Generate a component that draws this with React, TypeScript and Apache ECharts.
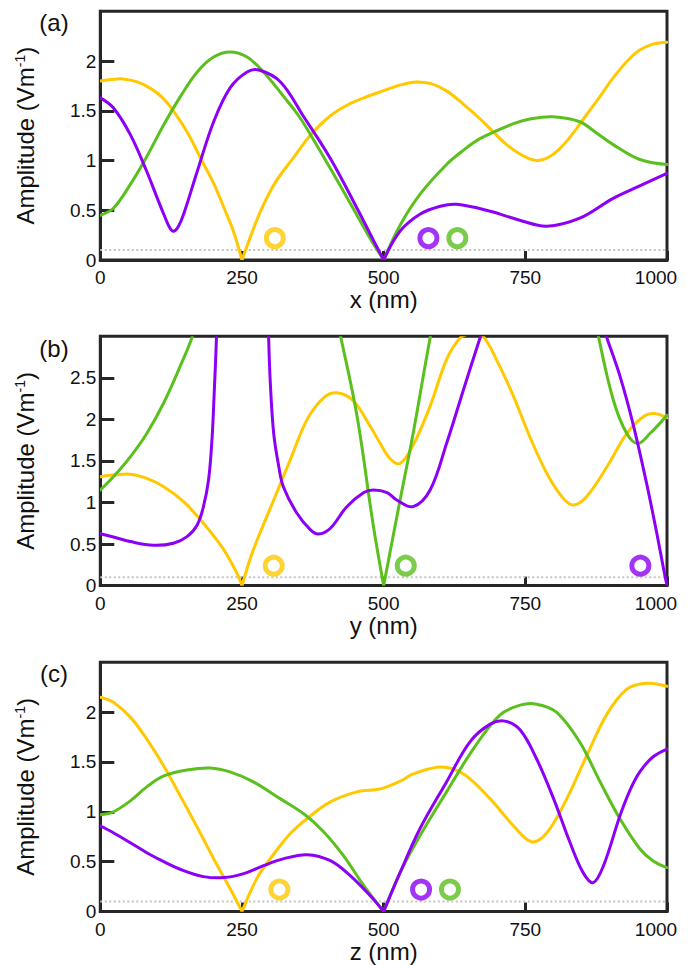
import React, { useEffect, useRef } from 'react';
import * as echarts from 'echarts';

// ---------- data ----------
const panelLabels = ['(a)', '(b)', '(c)'];
const axisNames = ['x (nm)', 'y (nm)', 'z (nm)'];
const yMaxes = [2.5, 3, 2.5];
const yIntervals = [0.5, 0.5, 0.5];
const xMin = 0;
const xMax = 1000;
const xInterval = 250;
const thresholdValue = 0.1;

// Panel (a): amplitude vs x
const aYellow: [number, number][] = [
  [0, 1.80], [20, 1.815], [40, 1.82], [65, 1.79], [90, 1.72], [110, 1.63], [129, 1.50], [155, 1.27],
  [179, 1.00], [200, 0.77], [220, 0.50], [236, 0.27], [250, 0.0],
  [268, 0.28], [285, 0.52], [310, 0.79], [341, 1.03], [370, 1.25], [406, 1.45], [440, 1.57],
  [465, 1.63], [494, 1.69], [530, 1.76], [558, 1.79], [585, 1.77], [611, 1.70], [640, 1.57], [670, 1.42],
  [695, 1.28], [717, 1.16], [745, 1.05], [770, 1.00], [790, 1.03], [811, 1.12], [835, 1.28], [858, 1.46],
  [880, 1.63], [905, 1.83], [930, 2.00], [952, 2.11], [975, 2.17], [1000, 2.19],
];
const aGreen: [number, number][] = [
  [0, 0.45], [23, 0.52], [53, 0.76], [82, 1.04], [112, 1.36], [141, 1.64], [171, 1.89], [200, 2.04],
  [229, 2.09], [259, 2.04], [288, 1.89], [324, 1.64], [350, 1.45], [371, 1.26], [406, 0.92], [441, 0.57],
  [476, 0.22], [500, 0.0], [529, 0.35], [564, 0.66], [611, 0.96], [640, 1.10],
  [670, 1.22], [729, 1.37], [760, 1.42], [799, 1.44], [846, 1.39], [875, 1.28], [905, 1.16], [952, 1.01],
  [1000, 0.96],
];
const aPurple: [number, number][] = [
  [0, 1.63], [23, 1.53], [53, 1.26], [82, 0.89], [100, 0.63], [112, 0.46], [122, 0.33], [129, 0.29],
  [137, 0.33], [147, 0.46], [171, 0.89], [200, 1.39], [229, 1.73], [259, 1.89], [280, 1.91], [318, 1.79],
  [359, 1.44], [406, 1.02], [453, 0.52], [480, 0.22], [500, 0.0], [529, 0.29],
  [564, 0.46], [600, 0.54], [629, 0.56], [688, 0.49], [740, 0.40], [788, 0.34], [846, 0.42], [905, 0.62],
  [950, 0.74], [1000, 0.87],
];
const aMarkers = { yellow: [308, 0.22], purple: [579, 0.22], green: [630, 0.22] };

// Panel (b): amplitude vs y
const bYellow: [number, number][] = [
  [0, 1.31], [23, 1.33], [53, 1.34], [82, 1.29], [112, 1.19], [147, 1.01], [182, 0.75], [218, 0.43],
  [241, 0.15], [250, 0.0], [270, 0.43], [306, 1.03], [335, 1.51], [365, 2.0], [394, 2.26],
  [418, 2.32], [447, 2.22], [476, 1.92], [494, 1.71], [511, 1.53], [529, 1.47], [552, 1.69], [582, 2.16],
  [611, 2.72], [635, 2.98], [655, 3.03], [675, 3.0], [699, 2.72], [729, 2.28], [758, 1.79], [788, 1.35],
  [817, 1.05], [835, 0.97], [858, 1.07], [894, 1.43], [929, 1.83], [960, 2.04], [978, 2.07], [1000, 2.02],
];
const bGreen: [number, number][] = [
  [0, 1.15], [23, 1.31], [53, 1.55], [82, 1.83], [112, 2.20], [141, 2.64], [162, 2.99], [185, 3.5],
  [230, 4.4], [290, 4.9], [350, 4.6], [395, 3.9], [424, 3.0], [453, 2.04], [482, 0.71],
  [500, 0.0], [529, 1.03], [552, 1.83], [582, 2.98], [620, 4.3], [700, 5.0], [790, 5.0],
  [850, 4.0], [879, 3.0], [905, 2.24], [929, 1.83], [949, 1.71], [970, 1.83], [1000, 2.05],
];
const bPurple: [number, number][] = [
  [0, 0.625], [23, 0.585], [53, 0.53], [94, 0.485], [129, 0.51], [153, 0.59], [171, 0.73], [182, 0.95],
  [191, 1.27], [197, 1.75], [201, 2.32], [205, 3.0], [210, 4.5], [230, 8], [250, 9], [275, 8],
  [292, 4.5], [297, 3.0], [300, 2.44], [306, 1.83], [315, 1.43], [323, 1.19], [347, 0.87], [371, 0.67],
  [385, 0.62], [406, 0.69], [435, 0.95], [465, 1.12], [482, 1.15], [506, 1.12], [523, 1.03], [552, 0.95],
  [582, 1.15], [611, 1.71], [641, 2.36], [670, 2.98], [700, 3.6], [780, 4.4], [850, 3.9], [893, 3.0],
  [917, 2.52], [941, 1.92], [964, 1.23], [982, 0.63], [994, 0.2], [1000, 0.0],
];
const bMarkers = { yellow: [306, 0.24], green: [539, 0.24], purple: [953, 0.24] };

// Panel (c): amplitude vs z
const cYellow: [number, number][] = [
  [0, 2.15], [23, 2.10], [53, 1.95], [82, 1.73], [112, 1.46], [141, 1.16], [171, 0.845], [200, 0.53],
  [229, 0.23], [250, 0.0], [276, 0.33], [300, 0.53], [335, 0.78], [371, 0.96],
  [406, 1.10], [453, 1.20], [494, 1.23], [530, 1.31], [552, 1.38], [602, 1.45], [641, 1.38], [688, 1.13],
  [729, 0.86], [761, 0.70], [788, 0.79], [823, 1.13], [858, 1.56], [894, 1.98], [929, 2.23], [964, 2.29],
  [1000, 2.26],
];
const cGreen: [number, number][] = [
  [0, 0.97], [23, 1.0], [53, 1.11], [82, 1.25], [112, 1.36], [153, 1.42], [194, 1.44], [229, 1.40],
  [270, 1.30], [318, 1.13], [359, 0.98], [394, 0.80], [429, 0.56], [465, 0.26], [500, 0.0],
  [529, 0.39], [564, 0.76], [611, 1.20], [658, 1.63], [705, 1.97], [741, 2.07], [770, 2.08],
  [805, 2.0], [846, 1.70], [882, 1.30], [917, 0.93], [952, 0.63], [975, 0.51], [1000, 0.44],
];
const cPurple: [number, number][] = [
  [0, 0.86], [23, 0.79], [53, 0.69], [82, 0.59], [112, 0.50], [147, 0.41], [182, 0.35], [218, 0.34],
  [253, 0.38], [288, 0.46], [324, 0.53], [365, 0.57], [406, 0.51], [441, 0.36], [476, 0.16],
  [500, 0.0], [529, 0.39], [564, 0.83], [611, 1.30], [652, 1.70], [688, 1.88], [714, 1.91],
  [741, 1.82], [770, 1.53], [800, 1.13], [829, 0.69], [852, 0.39], [870, 0.29], [888, 0.46], [917, 0.96],
  [935, 1.22], [952, 1.40], [975, 1.55], [1000, 1.63],
];
const cMarkers = { yellow: [316, 0.22], purple: [566, 0.22], green: [617, 0.22] };

const panels = [
  { yellow: aYellow, green: aGreen, purple: aPurple, markers: aMarkers },
  { yellow: bYellow, green: bGreen, purple: bPurple, markers: bMarkers },
  { yellow: cYellow, green: cGreen, purple: cPurple, markers: cMarkers },
];

// ---------- styling / layout ----------
const COLORS: Record<string, string> = { yellow: '#FFC800', green: '#5BBF1E', purple: '#8C00F5' };
const FONT = '"Liberation Sans", Arial, Helvetica, sans-serif';
const AXIS = '#262626';
const TEXT = '#111111';
const gridLeft = 100.3;
const gridWidth = 566.7;
const gridTops = [11.3, 336.3, 662.3];
const gridHeights = [248.7, 249.3, 249.2];
const labelPos = [
  [54, 22],
  [54, 348],
  [54, 673],
];
const SMOOTH = 0.36;

// A smooth curve drawn through the data points (converted by the axes),
// with sharp corners kept at the zero crossings.
function curveSeries(points: [number, number][], color: string, gridIndex: number, z: number) {
  return {
    type: 'custom',
    coordinateSystem: 'cartesian2d',
    xAxisIndex: gridIndex,
    yAxisIndex: gridIndex,
    data: points,
    clip: true,
    silent: true,
    z,
    renderItem: (params: any, api: any) => {
      if (params.dataIndex !== 0) return null;
      const segs: number[][][] = [];
      let cur: number[][] = [];
      points.forEach((p, k) => {
        const c = api.coord(p);
        cur.push(c);
        if (p[1] === 0 && k > 0 && k < points.length - 1) {
          segs.push(cur);
          cur = [c];
        }
      });
      segs.push(cur);
      return {
        type: 'group',
        children: segs.map((s) => ({
          type: 'polyline',
          shape: { points: s, smooth: SMOOTH },
          style: { stroke: color, lineWidth: 3, fill: 'none', lineJoin: 'round', lineCap: 'round' },
        })),
      };
    },
  };
}

export default function App() {
  const ref = useRef<HTMLDivElement>(null);

  useEffect(() => {
    if (!ref.current) return;
    const chart = echarts.init(ref.current, null, { renderer: 'svg' });

    const grid: any[] = [];
    const xAxis: any[] = [];
    const yAxis: any[] = [];
    const series: any[] = [];
    const graphic: any[] = [];

    panels.forEach((p, i) => {
      grid.push({
        left: gridLeft,
        top: gridTops[i],
        width: gridWidth,
        height: gridHeights[i],
        show: true,
        borderColor: AXIS,
        borderWidth: 3,
        backgroundColor: 'transparent',
      });
      xAxis.push({
        gridIndex: i,
        type: 'value',
        min: xMin,
        max: xMax,
        interval: xInterval,
        name: axisNames[i],
        nameLocation: 'middle',
        nameGap: 22,
        nameTextStyle: { fontSize: 24, fontFamily: FONT, color: TEXT },
        axisLine: { show: true, onZero: false, lineStyle: { color: AXIS, width: 3 } },
        axisTick: { show: true, inside: true, length: 9, lineStyle: { color: AXIS, width: 3 } },
        axisLabel: {
          fontSize: 19,
          fontFamily: FONT,
          color: TEXT,
          margin: 8,
          formatter: (v: number) => (v === xMax ? '{r|' + v + '}' : String(v)),
          rich: { r: { fontSize: 19, fontFamily: FONT, color: TEXT, padding: [0, 22, 0, 0] } },
        },
        splitLine: { show: false },
      });
      yAxis.push({
        gridIndex: i,
        type: 'value',
        min: 0,
        max: yMaxes[i],
        interval: yIntervals[i],
        name: 'Amplitude (Vm{sup|-1})',
        nameLocation: 'middle',
        nameGap: 63,
        nameTextStyle: {
          fontSize: 24,
          fontFamily: FONT,
          color: TEXT,
          rich: { sup: { fontSize: 14, fontFamily: FONT, color: TEXT, verticalAlign: 'top', lineHeight: 24 } },
        },
        axisLine: { show: true, onZero: false, lineStyle: { color: AXIS, width: 3 } },
        axisTick: { show: true, inside: true, length: 14, lineStyle: { color: AXIS, width: 3 } },
        axisLabel: { fontSize: 19, fontFamily: FONT, color: TEXT, margin: 4, showMaxLabel: false },
        splitLine: { show: false },
      });

      series.push({
        type: 'line',
        xAxisIndex: i,
        yAxisIndex: i,
        data: [[xMin, thresholdValue], [xMax, thresholdValue]],
        symbol: 'none',
        silent: true,
        lineStyle: { color: '#c4c4c4', width: 2, type: [2, 2.5] },
        z: 1,
      });
      (['yellow', 'green', 'purple'] as const).forEach((k, j) => {
        series.push(curveSeries(p[k], COLORS[k], i, 2 + j));
      });
      (Object.keys(p.markers) as (keyof typeof p.markers)[]).forEach((k) => {
        series.push({
          type: 'scatter',
          xAxisIndex: i,
          yAxisIndex: i,
          data: [p.markers[k]],
          symbol: 'circle',
          symbolSize: 17,
          silent: true,
          itemStyle: { color: '#ffffff', borderColor: COLORS[k as string], borderWidth: 5 },
          z: 6,
        });
      });

      graphic.push({
        type: 'text',
        x: labelPos[i][0],
        y: labelPos[i][1],
        style: {
          text: panelLabels[i],
          fontSize: 24,
          fontFamily: FONT,
          fill: TEXT,
          align: 'center',
          verticalAlign: 'middle',
        },
      });
    });

    chart.setOption({
      animation: false,
      backgroundColor: '#ffffff',
      grid,
      xAxis,
      yAxis,
      series,
      graphic,
    });

    return () => chart.dispose();
  }, []);

  return (
    <div
      ref={ref}
      style={{ position: 'absolute', left: 0, top: 0, width: 694, height: 965 }}
    />
  );
}
